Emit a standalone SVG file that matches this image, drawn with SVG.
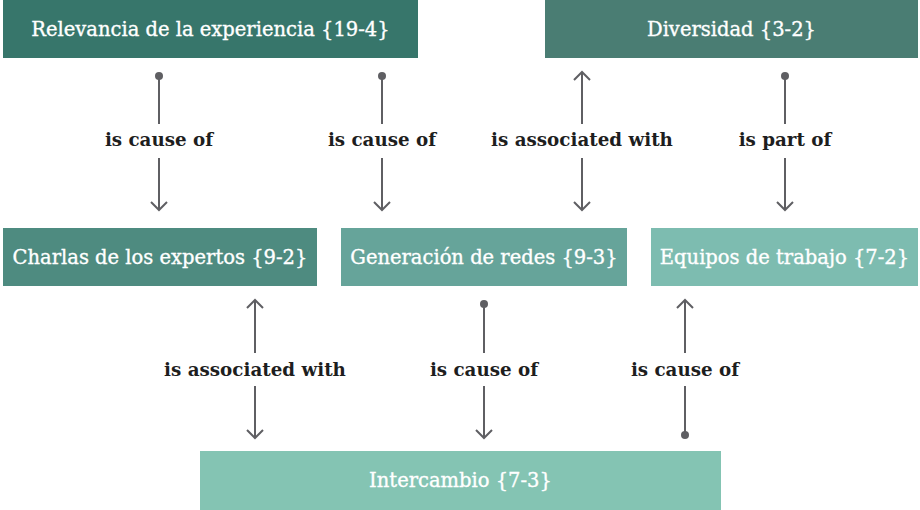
<svg xmlns="http://www.w3.org/2000/svg" width="920" height="510" viewBox="0 0 920 510">
<defs>
<style>
.node text{font-family:"DejaVu Serif","Liberation Serif",serif;font-size:19.5px;fill:#ffffff;stroke:#ffffff;stroke-width:0.35;text-anchor:middle;dominant-baseline:central}
.lbl{font-family:"DejaVu Serif","Liberation Serif",serif;font-size:18.3px;font-weight:bold;fill:#1e1e1e;text-anchor:middle;dominant-baseline:central}
.edge line{stroke:#5f5f63;stroke-width:2}
.dot{fill:#5f5f63}
.ah{fill:none;stroke:#5f5f63;stroke-width:2}
</style>
</defs>
<rect width="920" height="510" fill="#ffffff"/>
<g id="n-relevancia" class="node"><rect x="3" y="0" width="415" height="58" fill="#37766b"/><text x="210.5" y="29">Relevancia de la experiencia {19-4}</text></g>
<g id="n-diversidad" class="node"><rect x="545" y="0" width="373" height="58" fill="#4a7d73"/><text x="731.5" y="29">Diversidad {3-2}</text></g>
<g id="n-charlas" class="node"><rect x="3" y="228" width="314" height="58" fill="#4e8b80"/><text x="160" y="257">Charlas de los expertos {9-2}</text></g>
<g id="n-generacion" class="node"><rect x="341" y="228" width="286" height="58" fill="#66a49a"/><text x="484" y="257">Generación de redes {9-3}</text></g>
<g id="n-equipos" class="node"><rect x="651" y="228" width="267" height="58" fill="#7dbcb0"/><text x="784.5" y="257">Equipos de trabajo {7-2}</text></g>
<g id="n-intercambio" class="node"><rect x="200" y="451" width="521" height="59" fill="#84c4b3"/><text x="460.5" y="480">Intercambio {7-3}</text></g>
<g id="edges" class="edge">
<!-- Relevancia -> Charlas -->
<circle class="dot" cx="159" cy="76" r="4"/><line x1="159" y1="76" x2="159" y2="124"/><line x1="159" y1="158" x2="159" y2="210"/><polyline class="ah" points="151,202 159,210 167,202"/>
<text class="lbl" x="159" y="139">is cause of</text>
<!-- Relevancia -> Generacion -->
<circle class="dot" cx="382" cy="76" r="4"/><line x1="382" y1="76" x2="382" y2="124"/><line x1="382" y1="158" x2="382" y2="210"/><polyline class="ah" points="374,202 382,210 390,202"/>
<text class="lbl" x="382" y="139">is cause of</text>
<!-- Diversidad <-> Generacion -->
<line x1="582" y1="72" x2="582" y2="124"/><polyline class="ah" points="574,80 582,72 590,80"/><line x1="582" y1="158" x2="582" y2="210"/><polyline class="ah" points="574,202 582,210 590,202"/>
<text class="lbl" x="582" y="139">is associated with</text>
<!-- Diversidad -> Equipos -->
<circle class="dot" cx="785" cy="76" r="4"/><line x1="785" y1="76" x2="785" y2="124"/><line x1="785" y1="158" x2="785" y2="210"/><polyline class="ah" points="777,202 785,210 793,202"/>
<text class="lbl" x="785" y="139">is part of</text>
<!-- Charlas <-> Intercambio -->
<line x1="255" y1="300" x2="255" y2="353"/><polyline class="ah" points="247,308 255,300 263,308"/><line x1="255" y1="386" x2="255" y2="438"/><polyline class="ah" points="247,430 255,438 263,430"/>
<text class="lbl" x="255" y="369">is associated with</text>
<!-- Generacion -> Intercambio -->
<circle class="dot" cx="484" cy="304" r="4"/><line x1="484" y1="304" x2="484" y2="353"/><line x1="484" y1="386" x2="484" y2="438"/><polyline class="ah" points="476,430 484,438 492,430"/>
<text class="lbl" x="484" y="369">is cause of</text>
<!-- Intercambio -> Equipos -->
<line x1="685" y1="300" x2="685" y2="353"/><polyline class="ah" points="677,308 685,300 693,308"/><line x1="685" y1="386" x2="685" y2="435"/><circle class="dot" cx="685" cy="435" r="4"/>
<text class="lbl" x="685" y="369">is cause of</text>
</g>
</svg>
